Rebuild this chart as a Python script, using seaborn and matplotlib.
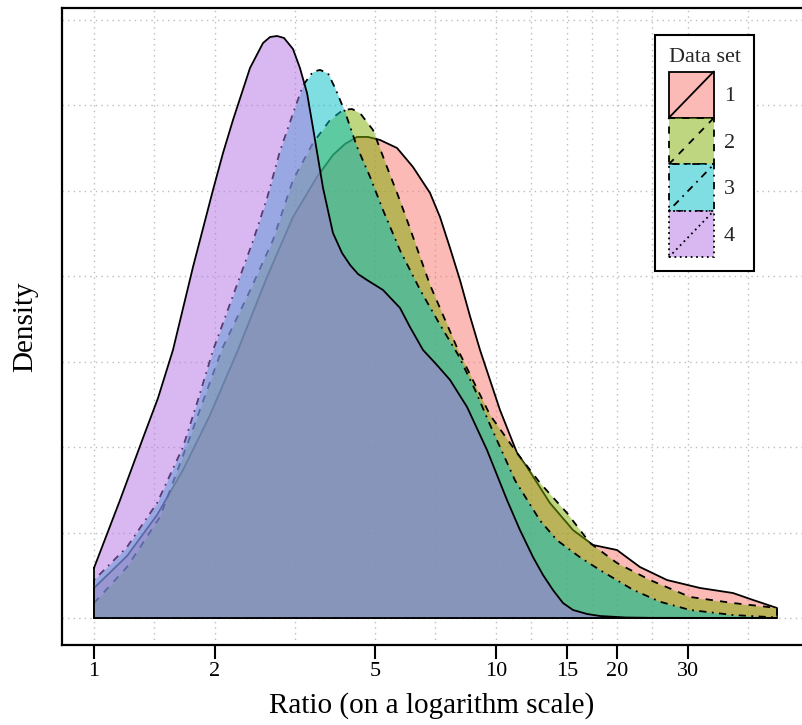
import matplotlib
matplotlib.use("Agg")
import matplotlib.pyplot as plt
import seaborn as sns
import pandas as pd
from matplotlib.legend_handler import HandlerBase
from matplotlib.patches import Rectangle, Patch
from matplotlib.lines import Line2D
from matplotlib.ticker import FixedLocator, NullFormatter
from matplotlib.colors import to_rgba

# ---------------- data ----------------
set_labels = ["1", "2", "3", "4"]
set_colors = ["#F8766D", "#7CAE00", "#00BFC4", "#B473E6"]

ratio_1 = [1.000, 1.208, 1.435, 1.665, 1.944, 2.281, 2.694, 3.126, 3.587, 3.930, 4.211,
           4.511, 4.805, 5.146, 5.674, 6.216, 6.853, 7.256, 7.686, 8.136, 8.614, 9.125,
           10.23, 11.28, 11.94, 13.62, 15.54, 17.43, 20.00, 22.81, 26.64, 32.17, 38.87,
           43.58, 50.0]
density_1 = [.0351, .0725, .1205, .1731, .2374, .3134, .3988, .4690, .5158, .5415, .5544,
             .5626, .5626, .5591, .5497, .5275, .4971, .4690, .4327, .3953, .3532, .3135,
             .2433, .1930, .1766, .1345, .1029, .0854, .0795, .0596, .0444, .0351, .0292,
             .0211, .0117]

ratio_2 = [1.000, 1.208, 1.459, 1.733, 2.082, 2.444, 2.788, 3.126, 3.506, 3.865, 4.164,
           4.383, 4.589, 4.943, 5.355, 5.674, 6.006, 6.853, 8.045, 9.663, 11.28, 12.87,
           15.02, 17.13, 20.00, 24.16, 30.38, 38.87, 50.0]
density_2 = [.0175, .0596, .1181, .2117, .3146, .3830, .4421, .5123, .5556, .5825, .5942,
             .5953, .5906, .5708, .5275, .4971, .4655, .3895, .3135, .2374, .1930, .1579,
             .1228, .0877, .0643, .0444, .0246, .0175, .0117]

ratio_3 = [1.000, 1.208, 1.435, 1.665, 1.814, 1.977, 2.217, 2.486, 2.694, 2.901, 3.126,
           3.311, 3.506, 3.650, 3.821, 3.977, 4.211, 4.511, 4.860, 5.236, 5.771, 6.471,
           7.256, 8.045, 8.866, 9.663, 11.15, 12.87, 14.18, 16.18, 18.15, 21.92, 25.59,
           30.38, 38.87, 50.0]
density_3 = [.0444, .0830, .1345, .2000, .2550, .3130, .3770, .4410, .4910, .5460, .5900,
             .6230, .6390, .6410, .6370, .6200, .5920, .5510, .5160, .4770, .4300, .3840,
             .3430, .3080, .2670, .2260, .1610, .1140, .0910, .0710, .0560, .0330, .0190,
             .0094, .0035, .0006]

ratio_4 = [1.000, 1.161, 1.324, 1.443, 1.572, 1.763, 1.977, 2.094, 2.217, 2.444, 2.633,
           2.741, 2.853, 2.969, 3.126, 3.253, 3.388, 3.506, 3.713, 3.930, 4.140, 4.335,
           4.537, 4.776, 5.236, 5.771, 6.110, 6.583, 7.130, 7.686, 8.472, 9.497, 10.65,
           11.47, 12.36, 13.09, 13.86, 14.68, 15.54, 16.84, 18.15, 21.00, 24.16, 50.0]
density_4 = [.0585, .1380, .2105, .2573, .3135, .4105, .5006, .5439, .5825, .6433, .6725,
             .6795, .6807, .6784, .6655, .6433, .6140, .5731, .5029, .4503, .4269, .4129,
             .4023, .3953, .3836, .3626, .3403, .3135, .2959, .2784, .2468, .1965, .1380,
             .1029, .0713, .0503, .0327, .0175, .0094, .0047, .0023, .0006, .0002, 0.0]

x_ticks = [1, 2, 5, 10, 15, 20, 30]
x_tick_labels = ["1", "2", "5", "10", "15", "20", "30"]
x_minor_grid = [1.414, 3.162, 7.071, 12.25, 17.32, 24.49, 42.43]
y_grid = [0.0, 0.1, 0.2, 0.3, 0.4, 0.5, 0.6, 0.7]

ratios = [ratio_1, ratio_2, ratio_3, ratio_4]
densities = [density_1, density_2, density_3, density_4]

# ---------------- style ----------------
sns.set_theme(style="white")
plt.rcParams["font.family"] = ["Liberation Serif", "DejaVu Serif"]

curve_styles = ["-", (0, (4, 4)), (0, (1, 3, 4, 3)), "-"]
legend_styles = ["-", (0, (4, 4)), (0, (1, 3, 4, 3)), (0, (1, 2))]

fig = plt.figure(figsize=(8.02, 7.25), dpi=100)
W, H = 802, 725
ax = fig.add_axes([62 / W, (H - 645) / H, (W - 62) / W, (645 - 8) / H])
ax.set_xscale("log")
ax.set_xlim(10 ** (-32 / 402), 10 ** (708 / 402))
ax.set_ylim(-27 / 855, 610 / 855)

for i in range(4):
    r = ratios[i]
    d = densities[i]
    ax.fill_between(r, d, 0, color=set_colors[i], alpha=0.5, lw=0, zorder=2 + 2 * i)
    df = pd.DataFrame({"x": list(r) + [r[-1], r[0], r[0]],
                       "y": list(d) + [0.0, 0.0, d[0]]})
    sns.lineplot(data=df, x="x", y="y", sort=False, estimator=None, color="black",
                 lw=1.3, linestyle=curve_styles[i], ax=ax, zorder=3 + 2 * i)

# ---------------- axes ----------------
ax.set_xticks(x_ticks)
ax.set_xticklabels(x_tick_labels)
ax.xaxis.set_minor_locator(FixedLocator(x_minor_grid))
ax.xaxis.set_minor_formatter(NullFormatter())
ax.set_yticks(y_grid)
ax.tick_params(axis="y", which="both", length=0, labelleft=False)
ax.tick_params(axis="x", which="major", direction="out", length=10, width=1.5,
               labelsize=16, pad=2, colors="black", bottom=True)
ax.tick_params(axis="x", which="minor", length=0, bottom=False)
ax.grid(True, which="both", axis="both", color="#BDBDBD", linestyle=(0, (1, 3)), lw=1.0)
ax.set_axisbelow(True)

for s in ["top", "left", "bottom"]:
    ax.spines[s].set_visible(True)
    ax.spines[s].set_color("black")
    ax.spines[s].set_linewidth(1.6)
ax.spines["right"].set_visible(False)

ax.set_xlabel("Ratio (on a logarithm scale)", fontsize=21, labelpad=8, color="black")
ax.set_ylabel("Density", fontsize=21, labelpad=17, color="black")


# ---------------- legend ----------------
class KeyHandler(HandlerBase):
    def create_artists(self, legend, orig_handle, xdescent, ydescent, width, height,
                       fontsize, trans):
        x0, y0 = -xdescent, -ydescent
        ls = orig_handle.get_linestyle()
        rect = Rectangle((x0, y0), width, height, facecolor=orig_handle.get_facecolor(),
                         edgecolor="black", linestyle=ls, lw=1.3, transform=trans)
        line = Line2D([x0, x0 + width], [y0, y0 + height], color="black",
                      linestyle=ls, lw=1.3, transform=trans)
        return [rect, line]


handles = [Patch(facecolor=to_rgba(set_colors[i], 0.5), edgecolor="black",
                 linestyle=legend_styles[i]) for i in range(4)]
leg = ax.legend(handles, set_labels, title="Data set", loc="upper right",
                bbox_to_anchor=((754 - 62) / 740, (645 - 35) / 637), borderaxespad=0,
                handler_map={Patch: KeyHandler()}, handlelength=2.03, handleheight=2.84,
                labelspacing=0, handletextpad=0.45, borderpad=0.6, fontsize=16,
                title_fontsize=16, frameon=True, fancybox=False, edgecolor="black",
                framealpha=1, alignment="left")
leg._legend_box.sep = 3
leg.get_frame().set_linewidth(1.5)
leg.set_zorder(20)

fig.savefig("out.png", dpi=100)
